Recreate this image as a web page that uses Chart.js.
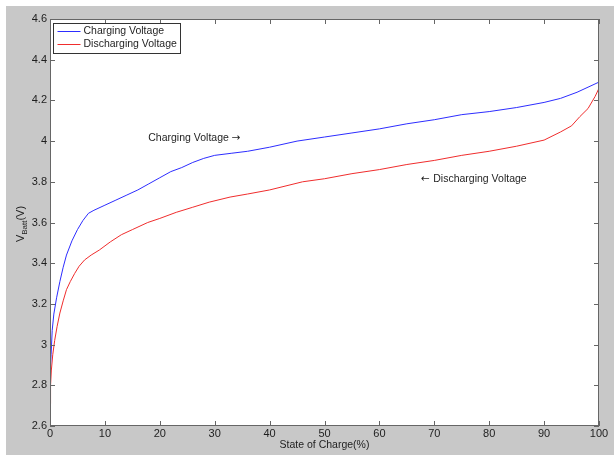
<!DOCTYPE html>
<html>
<head>
<meta charset="utf-8">
<script src="https://cdn.jsdelivr.net/npm/chart.js@4/dist/chart.umd.min.js"></script>
<style>html,body{margin:0;padding:0;background:#fff;}canvas{display:block;}</style>
</head>
<body>
<canvas id="c" width="614" height="455"></canvas>
<script>
// ---- data ----
const socCharge = [0, 0.2, 0.4, 0.7, 1.2, 1.8, 2.4, 3.0, 4.0, 5.0, 6.0, 7.0, 8, 10, 12, 14, 16, 18, 20, 22, 24, 26, 28, 30, 33, 36, 40, 45, 50, 55, 60, 65, 70, 75, 80, 85, 90, 93, 96, 98, 100];
const vCharge   = [2.85, 2.95, 3.07, 3.15, 3.23, 3.31, 3.38, 3.44, 3.51, 3.565, 3.61, 3.645, 3.66, 3.685, 3.71, 3.735, 3.76, 3.79, 3.82, 3.85, 3.87, 3.895, 3.915, 3.93, 3.94, 3.95, 3.97, 4.0, 4.02, 4.04, 4.06, 4.085, 4.105, 4.13, 4.145, 4.165, 4.19, 4.21, 4.24, 4.265, 4.29];
const socDischarge = [0, 0.1, 0.25, 0.5, 0.85, 1.3, 1.8, 2.4, 3.0, 3.7, 4.5, 5.3, 6.3, 7.5, 9, 11, 13, 15, 17.8, 20, 23, 26, 29, 32.8, 36, 40, 46, 50, 55, 60, 65, 70, 75, 80, 85, 90, 93, 95, 96.5, 98, 99.3, 100, 100];
const vDischarge   = [2.71, 2.80, 2.875, 2.95, 3.02, 3.09, 3.155, 3.215, 3.27, 3.31, 3.35, 3.385, 3.416, 3.44, 3.465, 3.505, 3.54, 3.565, 3.60, 3.62, 3.65, 3.675, 3.70, 3.725, 3.74, 3.76, 3.80, 3.815, 3.84, 3.86, 3.885, 3.905, 3.93, 3.95, 3.975, 4.005, 4.045, 4.075, 4.12, 4.16, 4.22, 4.26, 4.29];
const seriesLabels = ['Charging Voltage', 'Discharging Voltage'];
const xTitle = 'State of Charge(%)';
const yTitleMain = 'V', yTitleSub = 'Batt', yTitleUnit = '(V)';
const notes = [
  {pre: '', text: 'Charging Voltage ', post: '\u2192', x: 17.9, y: 4.015},
  {pre: '\u2190 ', text: 'Discharging Voltage', post: '', x: 67.6, y: 3.814}
];

const FONT = '"Liberation Sans", Arial, sans-serif';
const ARROWFONT = '"DejaVu Sans", sans-serif';
const TXT = '#1e1e1e';
const AXC = '#666666';
const colors = ['rgb(45,45,255)', 'rgb(240,45,45)'];

const toPts = (xs, ys) => xs.map((x, i) => ({x: x, y: ys[i]}));

const decor = {
  id: 'decor',
  beforeDraw(c) {
    const ctx = c.ctx, a = c.chartArea;
    ctx.save();
    ctx.fillStyle = '#ffffff';
    ctx.fillRect(0, 0, c.width, c.height);
    ctx.fillStyle = '#c8c8c8';
    ctx.fillRect(6, 6, c.width - 6, c.height - 6);
    ctx.fillStyle = '#ffffff';
    ctx.fillRect(a.left, a.top, a.right - a.left, a.bottom - a.top);
    ctx.restore();
  },
  afterDraw(c) {
    const ctx = c.ctx, a = c.chartArea;
    const xs = c.scales.x, ys = c.scales.y;
    ctx.save();
    // axes box
    ctx.strokeStyle = AXC;
    ctx.lineWidth = 1;
    ctx.strokeRect(a.left + 0.5, a.top + 0.5, a.right - a.left - 1, a.bottom - a.top - 1);
    // inward ticks on all sides
    const TL = 5;
    ctx.beginPath();
    xs.ticks.forEach(t => {
      const px = Math.round(xs.getPixelForValue(t.value)) + 0.5;
      ctx.moveTo(px, a.bottom); ctx.lineTo(px, a.bottom - TL);
      ctx.moveTo(px, a.top); ctx.lineTo(px, a.top + TL);
    });
    ys.ticks.forEach(t => {
      const py = Math.round(ys.getPixelForValue(t.value)) + 0.5;
      ctx.moveTo(a.left, py); ctx.lineTo(a.left + TL, py);
      ctx.moveTo(a.right, py); ctx.lineTo(a.right - TL, py);
    });
    ctx.stroke();

    // legend box
    const lx = a.left + 3.5, ly = a.top + 4.5, lw = 127, lh = 30;
    ctx.fillStyle = '#ffffff';
    ctx.fillRect(lx, ly, lw, lh);
    ctx.strokeStyle = '#333333';
    ctx.strokeRect(lx, ly, lw, lh);
    ctx.font = '10.5px ' + FONT;
    ctx.textBaseline = 'middle';
    ctx.textAlign = 'left';
    c.data.datasets.forEach((ds, i) => {
      const yy = ly + 7.5 + i * 13;
      ctx.strokeStyle = ds.borderColor;
      ctx.beginPath();
      ctx.moveTo(lx + 4, Math.round(yy) + 0.5);
      ctx.lineTo(lx + 27, Math.round(yy) + 0.5);
      ctx.stroke();
      ctx.fillStyle = TXT;
      ctx.fillText(ds.label, lx + 30, yy + 0.5);
    });

    // in-plot annotations
    notes.forEach(n => {
      ctx.fillStyle = TXT;
      let px = xs.getPixelForValue(n.x);
      const py = ys.getPixelForValue(n.y);
      if (n.pre) { ctx.font = '10.5px ' + ARROWFONT; ctx.fillText(n.pre, px, py); px += ctx.measureText(n.pre).width; }
      ctx.font = '10.5px ' + FONT; ctx.fillText(n.text, px, py); px += ctx.measureText(n.text).width;
      if (n.post) { ctx.font = '10.5px ' + ARROWFONT; ctx.fillText(n.post, px, py); }
    });

    // x-axis title
    ctx.font = '10.5px ' + FONT;
    ctx.textAlign = 'center';
    ctx.fillText(xTitle, (a.left + a.right) / 2, 445);
    ctx.textAlign = 'left';

    // y-axis title with subscript
    ctx.translate(24, 224);
    ctx.rotate(-Math.PI / 2);
    ctx.textBaseline = 'alphabetic';
    ctx.font = '11px ' + FONT;
    const wMain = ctx.measureText(yTitleMain).width;
    ctx.font = '8px ' + FONT;
    const wSub = ctx.measureText(yTitleSub).width;
    ctx.font = '11px ' + FONT;
    const wUnit = ctx.measureText(yTitleUnit).width;
    let sx = -(wMain + wSub + wUnit) / 2;
    ctx.fillText(yTitleMain, sx, 0); sx += wMain;
    ctx.font = '8px ' + FONT;
    ctx.fillText(yTitleSub, sx, 3); sx += wSub;
    ctx.font = '11px ' + FONT;
    ctx.fillText(yTitleUnit, sx, 0);
    ctx.restore();
  }
};

new Chart(document.getElementById('c'), {
  type: 'line',
  data: {
    datasets: [
      {label: seriesLabels[0], data: toPts(socCharge, vCharge), borderColor: colors[0], borderWidth: 1, pointRadius: 0, tension: 0, fill: false},
      {label: seriesLabels[1], data: toPts(socDischarge, vDischarge), borderColor: colors[1], borderWidth: 1, pointRadius: 0, tension: 0, fill: false}
    ]
  },
  options: {
    responsive: false,
    animation: false,
    devicePixelRatio: 1,
    layout: {padding: {left: 0, top: 19, right: 15, bottom: 0}},
    plugins: {legend: {display: false}, tooltip: {enabled: false}},
    scales: {
      x: {
        type: 'linear', min: 0, max: 100,
        grid: {display: false, drawTicks: false},
        border: {display: false},
        ticks: {stepSize: 10, color: TXT, font: {family: FONT, size: 11}, padding: 1, maxRotation: 0},
        afterFit: s => { s.height = 29; }
      },
      y: {
        type: 'linear', min: 2.6, max: 4.6,
        grid: {display: false, drawTicks: false},
        border: {display: false},
        ticks: {stepSize: 0.2, color: TXT, font: {family: FONT, size: 11}, padding: 3,
                callback: v => String(Math.round(v * 10) / 10)},
        afterFit: s => { s.width = 50; }
      }
    }
  },
  plugins: [decor]
});
</script>
</body>
</html>
